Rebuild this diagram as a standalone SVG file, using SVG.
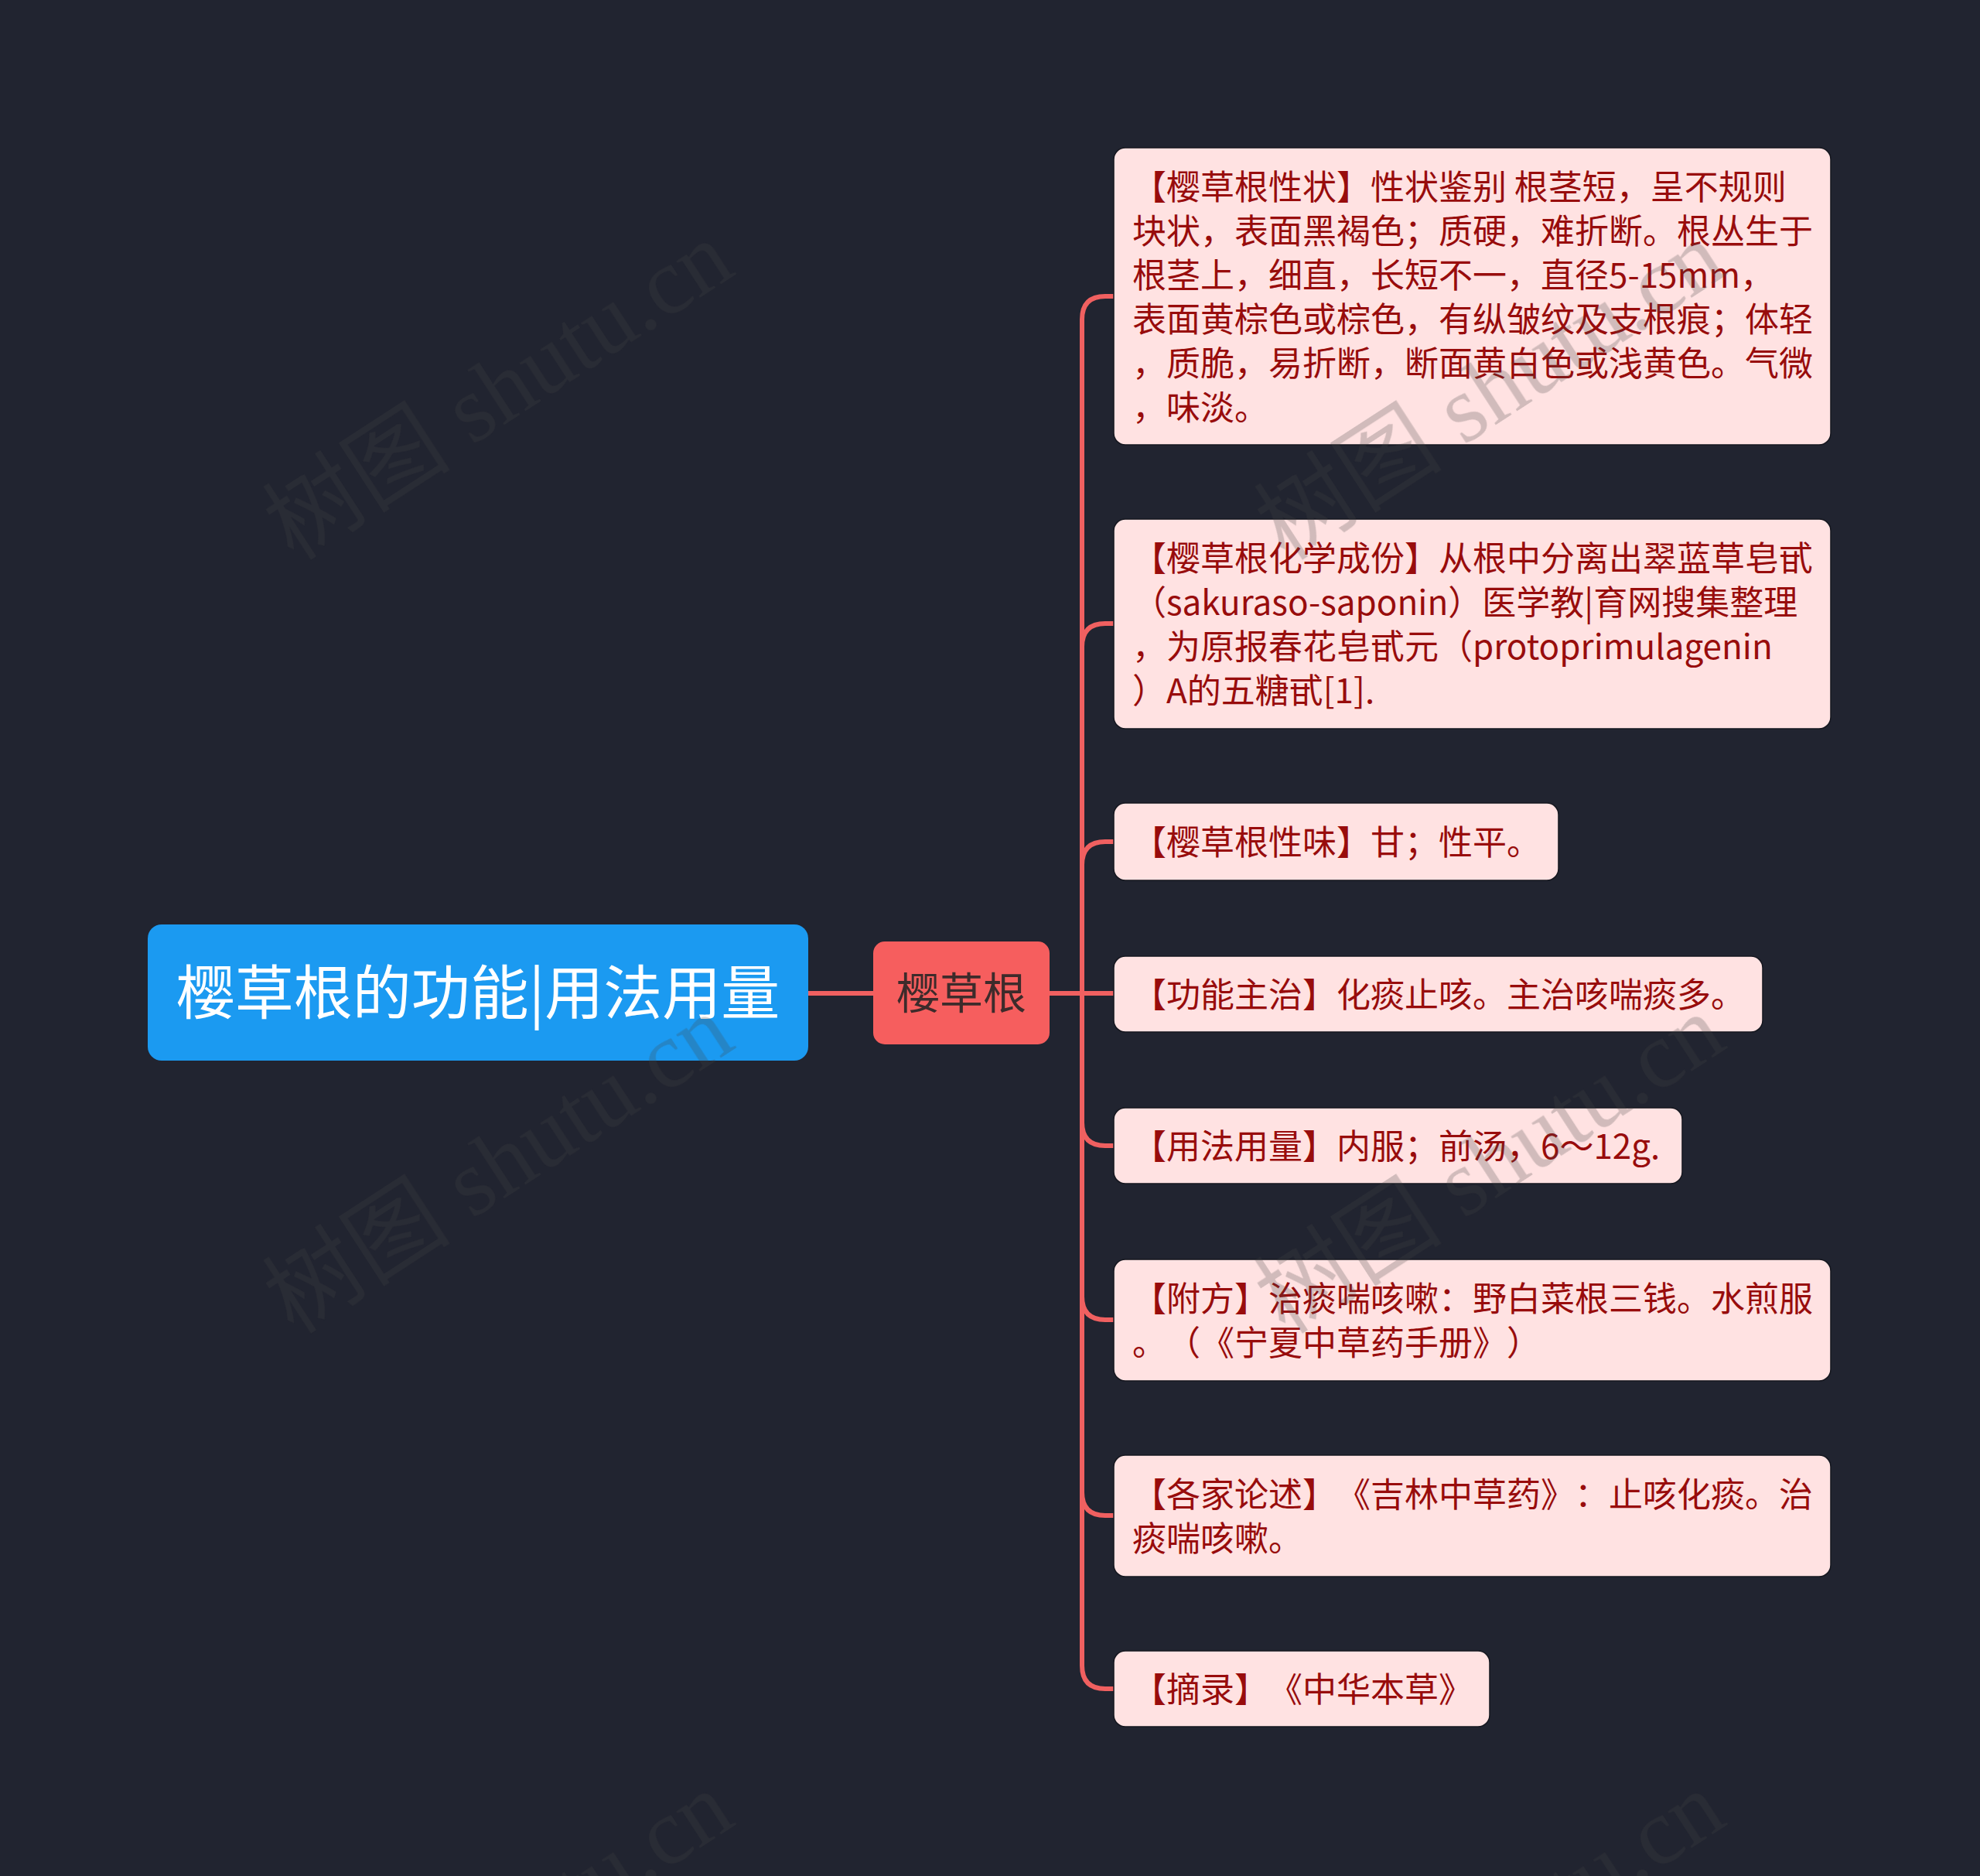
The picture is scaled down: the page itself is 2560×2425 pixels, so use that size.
<svg xmlns="http://www.w3.org/2000/svg" width="2560" height="2425" viewBox="0 0 2560 2425">
<style>
.bg{fill:#212430}
.conn{fill:none;stroke:#f06060;stroke-width:6;stroke-linecap:round}
.child rect{fill:#ffe2e2;stroke:#15171f;stroke-width:1.5}
.child text{font-family:"Noto Sans CJK SC","Liberation Sans",sans-serif;font-size:44px;fill:#980c0c;text-spacing-trim:space-all}
.root text{font-family:"Noto Sans CJK SC","Liberation Sans",sans-serif;font-size:76px;fill:#ffffff}
.mid text{font-family:"Noto Sans CJK SC","Liberation Sans",sans-serif;font-size:56px;fill:#3d2b2b}
.wm text{font-family:"Liberation Serif","Noto Sans CJK SC",serif;font-size:122px;fill:#454545;text-anchor:middle}
</style>
<rect class="bg" x="0" y="0" width="2560" height="2425"/>
<g id="connectors">
<path class="conn" d="M1045 1284 H1130"/>
<path class="conn" d="M1357 1284 H1440"/>
<path class="conn" d="M1399 1284 V413 Q1399 383 1429 383 H1440"/>
<path class="conn" d="M1399 1284 V836 Q1399 806 1429 806 H1440"/>
<path class="conn" d="M1399 1284 V1118 Q1399 1088 1429 1088 H1440"/>
<path class="conn" d="M1399 1284 V1451 Q1399 1481 1429 1481 H1440"/>
<path class="conn" d="M1399 1284 V1676 Q1399 1706 1429 1706 H1440"/>
<path class="conn" d="M1399 1284 V1929 Q1399 1959 1429 1959 H1440"/>
<path class="conn" d="M1399 1284 V2153 Q1399 2183 1429 2183 H1440"/>
</g>
<g id="root" class="root">
<rect x="191" y="1195" width="854" height="176" rx="18" fill="#1b9af1"/>
<text x="618" y="1311" text-anchor="middle">樱草根的功能|用法用量</text>
</g>
<g id="mid" class="mid">
<rect x="1129" y="1217" width="228" height="133" rx="15" fill="#f65e5e"/>
<text x="1243" y="1304" text-anchor="middle">樱草根</text>
</g>
<g id="n1" class="child">
<rect x="1440" y="191" width="927" height="384" rx="15"/>
<text x="1464" y="258">【樱草根性状】性状鉴别 根茎短，呈不规则</text>
<text x="1464" y="315">块状，表面黑褐色；质硬，难折断。根丛生于</text>
<text x="1464" y="372">根茎上，细直，长短不一，直径5-15mm，</text>
<text x="1464" y="429">表面黄棕色或棕色，有纵皱纹及支根痕；体轻</text>
<text x="1464" y="486">，质脆，易折断，断面黄白色或浅黄色。气微</text>
<text x="1464" y="543">，味淡。</text>
</g>
<g id="n2" class="child">
<rect x="1440" y="671" width="927" height="271" rx="15"/>
<text x="1464" y="738">【樱草根化学成份】从根中分离出翠蓝草皂甙</text>
<text x="1464" y="795">（sakuraso-saponin）医学教|育网搜集整理</text>
<text x="1464" y="852">，为原报春花皂甙元（protoprimulagenin</text>
<text x="1464" y="909">）A的五糖甙[1].</text>
</g>
<g id="n3" class="child">
<rect x="1440" y="1038" width="575" height="100" rx="15"/>
<text x="1464" y="1105">【樱草根性味】甘；性平。</text>
</g>
<g id="n4" class="child">
<rect x="1440" y="1236" width="839" height="98" rx="15"/>
<text x="1464" y="1302">【功能主治】化痰止咳。主治咳喘痰多。</text>
</g>
<g id="n5" class="child">
<rect x="1440" y="1432" width="735" height="98" rx="15"/>
<text x="1464" y="1498">【用法用量】内服；前汤，6～12g.</text>
</g>
<g id="n6" class="child">
<rect x="1440" y="1628" width="927" height="157" rx="15"/>
<text x="1464" y="1695">【附方】治痰喘咳嗽：野白菜根三钱。水煎服</text>
<text x="1464" y="1752">。（《宁夏中草药手册》）</text>
</g>
<g id="n7" class="child">
<rect x="1440" y="1881" width="927" height="157" rx="15"/>
<text x="1464" y="1948">【各家论述】《吉林中草药》：止咳化痰。治</text>
<text x="1464" y="2005">痰喘咳嗽。</text>
</g>
<g id="n8" class="child">
<rect x="1440" y="2134" width="486" height="98" rx="15"/>
<text x="1464" y="2200">【摘录】《中华本草》</text>
</g>
<g id="watermarks" class="wm" opacity="0.25">
<text transform="translate(645 506) rotate(-33)" y="40">树图 shutu.cn</text>
<text transform="translate(1927 506) rotate(-33)" y="40">树图 shutu.cn</text>
<text transform="translate(645 1506) rotate(-33)" y="40">树图 shutu.cn</text>
<text transform="translate(1927 1506) rotate(-33)" y="40">树图 shutu.cn</text>
<text transform="translate(645 2510) rotate(-33)" y="40">树图 shutu.cn</text>
<text transform="translate(1927 2510) rotate(-33)" y="40">树图 shutu.cn</text>
</g>
</svg>
